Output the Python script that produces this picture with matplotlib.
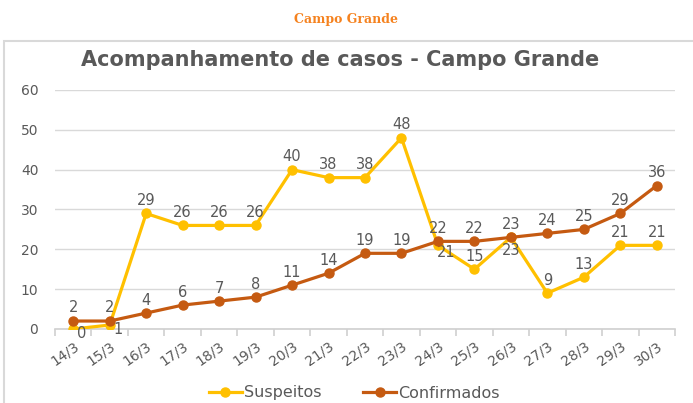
import matplotlib
matplotlib.use("Agg")
import matplotlib.pyplot as plt
from matplotlib.patches import Rectangle

dias = ["14/3", "15/3", "16/3", "17/3", "18/3", "19/3", "20/3", "21/3", "22/3",
        "23/3", "24/3", "25/3", "26/3", "27/3", "28/3", "29/3", "30/3"]
suspeitos = [0, 1, 29, 26, 26, 26, 40, 38, 38, 48, 21, 15, 23, 9, 13, 21, 21]
confirmados = [2, 2, 4, 6, 7, 8, 11, 14, 19, 19, 22, 22, 23, 24, 25, 29, 36]

cor_susp = "#FFC000"
cor_conf = "#C55A11"
cinza = "#595959"

fig = plt.figure(figsize=(6.93, 4.03), dpi=100)
# moldura do grafico
fig.patches.append(Rectangle((4 / 693, -0.1), 1.0, (403 - 41) / 403 + 0.1,
                             transform=fig.transFigure, fill=False,
                             edgecolor="#d9d9d9", linewidth=1.5))

fig.text(0.5, 1 - 20 / 403, "Campo Grande", ha="center", va="center",
         fontsize=9, fontweight="bold", family="DejaVu Serif", color="#F5821F")
fig.text(340 / 693, 1 - 60 / 403, "Acompanhamento de casos - Campo Grande",
         ha="center", va="center", fontsize=15, fontweight="bold", color=cinza)

ax = fig.add_axes([55 / 693, (403 - 329) / 403, 620 / 693, (329 - 90) / 403])
x = list(range(len(dias)))
ax.plot(x, suspeitos, color=cor_susp, lw=2.3, marker="o", ms=6.5, label="Suspeitos", zorder=3)
ax.plot(x, confirmados, color=cor_conf, lw=2.3, marker="o", ms=6.5, label="Confirmados", zorder=4)

ax.set_xlim(-0.5, len(dias) - 0.5)
ax.set_ylim(0, 60)
ax.set_yticks(range(0, 61, 10))
ax.yaxis.grid(True, color="#d9d9d9", lw=1)
ax.set_axisbelow(True)
for s in ["top", "right", "left"]:
    ax.spines[s].set_visible(False)
ax.spines["bottom"].set_color("#d0d0d0")
ax.spines["bottom"].set_linewidth(1.2)
ax.tick_params(axis="y", length=0, pad=12, labelsize=10, labelcolor=cinza)
ax.set_xticks(x)
ax.set_xticklabels(dias, rotation=35, ha="right", rotation_mode="anchor")
ax.tick_params(axis="x", length=0, pad=7, labelsize=10, labelcolor=cinza)
ax.set_xticks([i - 0.5 for i in range(len(dias) + 1)], minor=True)
ax.tick_params(axis="x", which="minor", length=5, color="#d0d0d0", width=1.2)

# rotulos de dados
fs = 10.5
susp_pos = {0: "right", 1: "right", 10: "belowright", 12: "below"}
for i, v in enumerate(suspeitos):
    p = susp_pos.get(i, "above")
    if p == "above":
        ax.annotate(str(v), (i, v), xytext=(0, 4), textcoords="offset points",
                    ha="center", va="bottom", fontsize=fs, color=cinza)
    elif p == "right":
        ax.annotate(str(v), (i, v), xytext=(3, -3), textcoords="offset points",
                    ha="left", va="center", fontsize=fs, color=cinza)
    elif p == "belowright":
        ax.annotate(str(v), (i, v), xytext=(-1, 0), textcoords="offset points",
                    ha="left", va="top", fontsize=fs, color=cinza)
    else:
        ax.annotate(str(v), (i, v), xytext=(0, -4), textcoords="offset points",
                    ha="center", va="top", fontsize=fs, color=cinza)
for i, v in enumerate(confirmados):
    ax.annotate(str(v), (i, v), xytext=(0, 4), textcoords="offset points",
                ha="center", va="bottom", fontsize=fs, color=cinza)

fig.legend(loc="center", bbox_to_anchor=(354 / 693, 1 - 393 / 403), ncol=2, frameon=False,
           fontsize=11.5, handlelength=2.1, handletextpad=0.1, columnspacing=2.6,
           labelcolor=cinza)

fig.savefig("out.png", dpi=100)
